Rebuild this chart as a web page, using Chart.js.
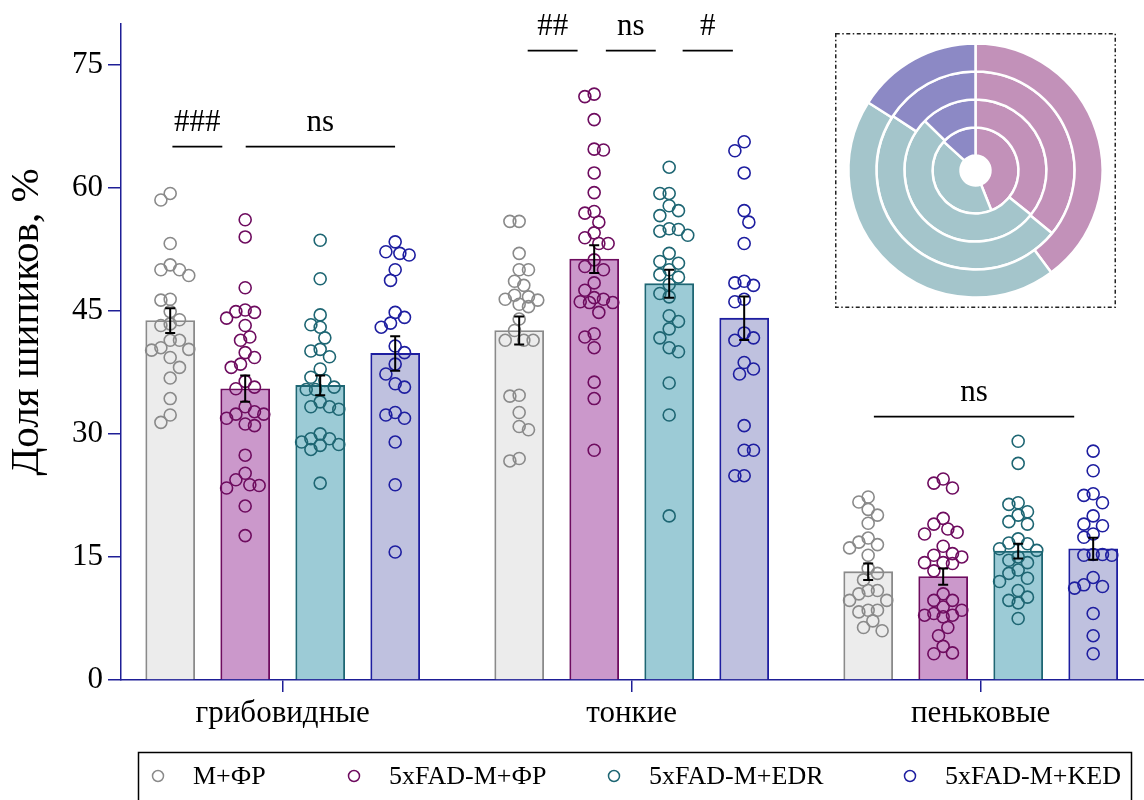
<!DOCTYPE html>
<html lang="ru">
<head>
<meta charset="utf-8">
<title>Доля шипиков</title>
<script src="https://cdn.jsdelivr.net/npm/chart.js@4.4.1/dist/chart.umd.min.js"></script>
<style>
  html, body { margin: 0; padding: 0; background: #fff; }
  #wrap { position: relative; width: 1144px; height: 800px; overflow: hidden; }
  #mainChart { position: absolute; left: 0; top: 0; }
  #pieChart { position: absolute; left: 835px; top: 33px; }
</style>
</head>
<body>
<div id="wrap">
  <canvas id="mainChart" width="1144" height="800"></canvas>
  <canvas id="pieChart" width="281" height="275"></canvas>
</div>
<script>
// категории и группы
const categories = ['грибовидные', 'тонкие', 'пеньковые'];
const groups = ['M+ФР', '5xFAD-M+ФР', '5xFAD-M+EDR', '5xFAD-M+KED'];
const yTicks = [0, 15, 30, 45, 60, 75];

// средние (грибовидные, тонкие, пеньковые)
const meanMF  = [43.8, 42.6, 13.2];
const meanFAD = [35.5, 51.3, 12.6];
const meanEDR = [35.9, 48.3, 15.7];
const meanKED = [39.8, 44.1, 16.0];

// ошибка среднего
const semMF  = [1.5, 1.7, 1.0];
const semFAD = [1.6, 1.7, 1.0];
const semEDR = [1.2, 1.7, 0.9];
const semKED = [2.1, 2.65, 1.35];

// отдельные значения
const mfMushroom = [59.3, 58.5, 53.2, 50.6, 50.0, 50.0, 49.3, 46.3, 46.4, 44.9, 43.4, 43.9, 43.2, 41.4, 41.4, 40.3, 40.2, 40.5, 39.3, 38.1, 36.8, 34.3, 32.3, 31.4];
const mfThin     = [55.9, 55.9, 52.0, 50.0, 50.0, 48.6, 48.1, 46.7, 45.8, 46.4, 46.9, 46.3, 45.5, 44.0, 42.6, 41.4, 41.4, 41.4, 34.7, 34.6, 32.6, 30.5, 30.9, 26.7, 27.0];
const mfStubby   = [22.3, 21.7, 20.8, 20.1, 19.1, 17.3, 16.8, 16.5, 16.1, 15.2, 13.6, 13.0, 12.2, 10.9, 10.9, 10.5, 9.7, 9.7, 8.5, 8.5, 8.3, 7.2, 6.0, 6.4];

const fadMushroom = [56.1, 54.0, 47.8, 44.8, 45.1, 44.9, 44.1, 43.2, 41.8, 41.4, 39.9, 39.3, 38.5, 38.1, 36.4, 35.7, 35.5, 33.3, 32.4, 32.4, 32.7, 31.9, 31.0, 31.2, 27.4, 25.2, 24.4, 23.8, 23.7, 23.4, 21.2, 17.6];
const fadThin     = [71.4, 71.1, 68.3, 64.6, 64.7, 61.8, 59.4, 56.9, 57.1, 55.8, 54.5, 53.9, 53.2, 53.2, 51.2, 50.0, 50.4, 48.4, 47.5, 46.6, 46.1, 46.0, 46.4, 46.0, 44.8, 41.8, 42.2, 40.5, 36.3, 34.3, 28.0];
const fadStubby   = [24.5, 24.0, 23.4, 19.7, 19.0, 18.4, 18.0, 17.8, 16.3, 15.4, 15.2, 15.0, 14.2, 14.3, 14.3, 13.3, 10.5, 9.7, 9.7, 8.9, 8.5, 7.9, 7.9, 8.1, 7.7, 6.4, 5.4, 4.1, 3.2, 3.3];

const edrMushroom = [53.6, 48.9, 44.5, 43.3, 43.0, 41.7, 40.1, 40.3, 39.4, 37.9, 36.9, 36.5, 35.4, 35.4, 35.7, 33.9, 33.0, 33.3, 33.3, 30.0, 29.0, 28.6, 28.7, 29.4, 28.1, 29.4, 24.0];
const edrThin     = [62.5, 59.3, 59.3, 57.8, 57.2, 56.6, 55.0, 54.9, 54.2, 54.7, 52.0, 50.8, 51.0, 50.0, 49.1, 49.4, 48.2, 46.7, 47.1, 44.4, 43.7, 42.8, 41.7, 40.5, 40.0, 36.2, 32.3, 20.0];
const edrStubby   = [29.1, 26.4, 21.4, 21.6, 20.5, 20.1, 19.0, 19.3, 17.2, 16.7, 16.6, 15.8, 16.0, 15.0, 14.6, 14.3, 13.4, 13.0, 12.0, 12.4, 10.9, 10.1, 9.4, 9.7, 7.5];

const kedMushroom = [53.4, 51.8, 52.2, 52.0, 50.0, 48.7, 44.2, 44.8, 43.0, 43.5, 40.7, 39.9, 38.5, 37.3, 36.1, 35.7, 32.6, 31.9, 32.3, 29.0, 23.8, 15.6];
const kedThin     = [65.6, 64.5, 61.8, 57.2, 55.8, 53.2, 48.6, 48.1, 48.4, 46.4, 46.1, 42.3, 41.7, 41.4, 38.7, 37.3, 37.9, 31.0, 28.0, 28.0, 24.9, 24.9];
const kedStubby   = [27.9, 25.5, 22.7, 22.5, 21.6, 20.0, 19.0, 18.8, 17.8, 17.4, 15.2, 15.2, 15.3, 15.3, 12.5, 11.2, 11.6, 11.4, 8.1, 5.4, 3.2];

const means = [meanMF, meanFAD, meanEDR, meanKED];
const sems = [semMF, semFAD, semEDR, semKED];
const points = [
  [mfMushroom, mfThin, mfStubby],
  [fadMushroom, fadThin, fadStubby],
  [edrMushroom, edrThin, edrStubby],
  [kedMushroom, kedThin, kedStubby]
];

// значимость
const sigMarks = [
  { x1: 0.684, x2: 0.827, y: 65, text: '###' },
  { x1: 0.894, x2: 1.322, y: 65, text: 'ns' },
  { x1: 1.702, x2: 1.845, y: 76.7, text: '##' },
  { x1: 1.926, x2: 2.069, y: 76.7, text: 'ns' },
  { x1: 2.146, x2: 2.290, y: 76.7, text: '#' },
  { x1: 2.694, x2: 3.268, y: 32.1, text: 'ns' }
];

// оформление
const SERIF = '"Liberation Serif", "Times New Roman", serif';
const AXIS = '#1e1e96';
const fills = ['#ececec', '#cb98cb', '#9ccbd6', '#bfc1df'];
const strokes = ['#8a8a8a', '#6e0c5f', '#1e6673', '#1e1ea0'];
const pieColors = ['#c291b9', '#a4c5cb', '#8c89c5'];

const X_MIN = 0.5367, X_MAX = 3.468;
const X_PX = 1023 / (X_MAX - X_MIN);
const Y_PX = 658 / 80;
const BAR_STEP = 75 / X_PX;
const groupOffset = g => (g - 1.5) * BAR_STEP;

// раскладка точек (beeswarm)
const STEP = 9.3, MIN_DY = 12;
function swarm(values, cx) {
  const placed = [];
  let flip = -1;
  values.slice().sort((a, b) => b - a).forEach(v => {
    let best = 0, bestScore = -1;
    for (let k = 0; k <= 4 && bestScore < 1; k++) {
      const cands = k === 0 ? [0] : [flip * k, -flip * k];
      for (const c of cands) {
        const dx = c * STEP / 2;
        let score = 9;
        placed.forEach(p => {
          const ny = Math.abs(p.v - v) * Y_PX / MIN_DY;
          if (ny >= 1) return;
          const nx = Math.abs(p.dx - dx) / STEP;
          score = Math.min(score, Math.hypot(nx, ny));
        });
        if (score > bestScore) { bestScore = score; best = dx; }
        if (score >= 1) break;
      }
    }
    if (best !== 0) flip = -Math.sign(best);
    placed.push({ v, dx: best });
  });
  return placed.map(p => ({ x: cx + p.dx / X_PX, y: p.v }));
}

// планки ошибок
const errorBars = {
  id: 'errorBars',
  afterDatasetsDraw(chart) {
    const { ctx, scales: { y } } = chart;
    ctx.save();
    ctx.strokeStyle = '#000';
    ctx.lineWidth = 2;
    sems.forEach((sem, g) => {
      chart.getDatasetMeta(g).data.forEach((bar, i) => {
        const top = y.getPixelForValue(means[g][i] + sem[i]);
        const bot = y.getPixelForValue(means[g][i] - sem[i]);
        ctx.beginPath();
        ctx.moveTo(bar.x, top); ctx.lineTo(bar.x, bot);
        ctx.moveTo(bar.x - 5, top); ctx.lineTo(bar.x + 5, top);
        ctx.moveTo(bar.x - 5, bot); ctx.lineTo(bar.x + 5, bot);
        ctx.stroke();
      });
    });
    ctx.restore();
  }
};

// надписи значимости, подпись оси Y, легенда
const decorations = {
  id: 'decorations',
  afterDraw(chart) {
    const { ctx, scales: { x, y } } = chart;
    ctx.save();
    ctx.fillStyle = '#000';
    ctx.strokeStyle = '#000';
    ctx.lineWidth = 1.8;
    ctx.font = '31px ' + SERIF;
    ctx.textAlign = 'center';
    ctx.textBaseline = 'alphabetic';
    sigMarks.forEach(m => {
      const py = y.getPixelForValue(m.y);
      const a = x.getPixelForValue(m.x1), b = x.getPixelForValue(m.x2);
      ctx.beginPath();
      ctx.moveTo(a, py); ctx.lineTo(b, py);
      ctx.stroke();
      ctx.fillText(m.text, (a + b) / 2, py - 16);
    });

    // подпись оси Y
    ctx.save();
    ctx.translate(27, 322);
    ctx.rotate(-Math.PI / 2);
    ctx.font = '41px ' + SERIF;
    ctx.textBaseline = 'middle';
    ctx.fillText('Доля шипиков, %', 0, 0);
    ctx.restore();

    // легенда
    ctx.lineWidth = 1.5;
    ctx.strokeRect(138.5, 752.5, 993, 70);
    const markX = [158, 354, 614, 910];
    ctx.font = '26px ' + SERIF;
    ctx.textAlign = 'left';
    ctx.textBaseline = 'middle';
    groups.forEach((name, g) => {
      ctx.beginPath();
      ctx.arc(markX[g], 776, 5.5, 0, Math.PI * 2);
      ctx.strokeStyle = strokes[g];
      ctx.stroke();
      ctx.fillStyle = '#000';
      ctx.fillText(name, markX[g] + 35, 777);
    });
    ctx.restore();
  }
};

const barSets = groups.map((name, g) => ({
  type: 'bar',
  label: name,
  data: means[g].map((m, i) => ({ x: i + 1 + groupOffset(g), y: m })),
  backgroundColor: fills[g],
  borderColor: strokes[g],
  borderWidth: 1.8,
  barThickness: 49,
  grouped: false,
  order: 2
}));

const dotSets = groups.map((name, g) => ({
  type: 'scatter',
  label: name,
  data: points[g].flatMap((vals, i) => swarm(vals, i + 1 + groupOffset(g))),
  pointStyle: 'circle',
  pointRadius: 6,
  pointBorderWidth: 1.6,
  pointBorderColor: strokes[g],
  pointBackgroundColor: 'rgba(0,0,0,0)',
  order: 1
}));

new Chart(document.getElementById('mainChart'), {
  type: 'bar',
  data: { datasets: [...barSets, ...dotSets] },
  options: {
    responsive: false,
    animation: false,
    events: [],
    layout: { autoPadding: false, padding: { top: 22, right: 0, left: 0, bottom: 0 } },
    plugins: { legend: { display: false }, tooltip: { enabled: false } },
    scales: {
      x: {
        type: 'linear',
        min: X_MIN,
        max: X_MAX,
        offset: false,
        afterBuildTicks: s => { s.ticks = categories.map((c, i) => ({ value: i + 1 })); },
        afterFit: s => { s.height = 120; s.paddingLeft = 0; s.paddingRight = 0; },
        ticks: {
          callback: (v, i) => categories[i],
          font: { family: SERIF, size: 31 },
          color: '#000',
          padding: 3,
          maxRotation: 0,
          autoSkip: false
        },
        grid: { drawOnChartArea: false, offset: false, tickLength: 12, color: AXIS, lineWidth: 1.5 },
        border: { color: AXIS, width: 1.5 }
      },
      y: {
        min: 0,
        max: 80,
        afterBuildTicks: s => { s.ticks = yTicks.map(v => ({ value: v })); },
        afterFit: s => { s.width = 121; },
        ticks: { font: { family: SERIF, size: 31 }, color: '#000', padding: 5 },
        grid: { drawOnChartArea: false, tickLength: 13, color: AXIS, lineWidth: 1.5 },
        border: { color: AXIS, width: 1.5 }
      }
    }
  },
  plugins: [errorBars, decorations]
});

// рамка вставки
const insetFrame = {
  id: 'insetFrame',
  beforeDraw(chart) {
    const { ctx, width, height } = chart;
    ctx.save();
    ctx.strokeStyle = '#222';
    ctx.lineWidth = 1.5;
    ctx.setLineDash([4, 2.5, 1.5, 2.5]);
    ctx.strokeRect(0.75, 0.75, width - 1.5, height - 1.5);
    ctx.restore();
  }
};

// кольцевая диаграмма: снаружи KED, внутри M+ФР
new Chart(document.getElementById('pieChart'), {
  type: 'doughnut',
  data: {
    labels: categories,
    datasets: [meanKED, meanEDR, meanFAD, meanMF].map(d => ({
      data: d,
      backgroundColor: pieColors,
      borderColor: '#fff',
      borderWidth: 2.5
    }))
  },
  options: {
    responsive: false,
    animation: false,
    events: [],
    cutout: '11.8%',
    radius: 127,
    plugins: { legend: { display: false }, tooltip: { enabled: false } }
  },
  plugins: [insetFrame]
});
</script>
</body>
</html>
